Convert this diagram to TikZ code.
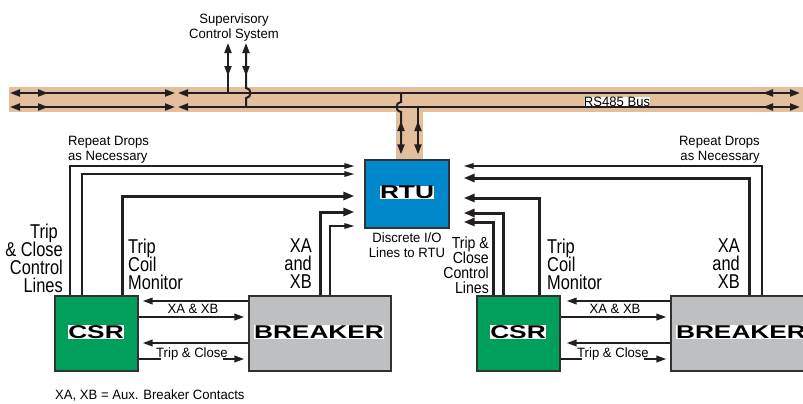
\documentclass[tikz,border=0pt]{standalone}
\usepackage{fontspec}
\setmainfont{Liberation Sans}
\newfontfamily\smallf{Liberation Sans}[FakeStretch=0.97]
\newfontfamily\bigf{Liberation Sans}[FakeStretch=0.82]
\newfontfamily\narf{Liberation Sans}[FakeStretch=0.88]
\newfontfamily\boxf{Liberation Sans}[FakeStretch=1.42]
\usetikzlibrary{arrows.meta}
\definecolor{tanc}{RGB}{227,191,158}
\definecolor{rtuc}{RGB}{0,136,204}
\definecolor{csrc}{RGB}{0,160,92}
\definecolor{brkc}{RGB}{190,191,193}
\definecolor{inkc}{RGB}{35,31,32}
\definecolor{edgec}{RGB}{50,50,50}
\setlength{\lineskiplimit}{-30pt}
\begin{document}
\begin{tikzpicture}[x=1bp,y=-1bp,
  wire/.style={draw=inkc, line width=1.4bp, -{Triangle[length=10bp,width=5.5bp]}},
  heavy/.style={draw=inkc, line width=3bp, -{Triangle[length=11bp,width=8bp]}},
  med/.style={draw=inkc, line width=2bp, -{Triangle[length=10bp,width=6.5bp]}},
  busw/.style={draw=inkc, line width=2bp},
  btip/.style={-{Triangle[length=10bp,width=7bp]}},
  btips/.style={{Triangle[length=10bp,width=7bp]}-{Triangle[length=10bp,width=7bp]}},
  unit/.style={draw=edgec, line width=1.3bp, inner sep=0pt, minimum height=75bp},
  unitlabel/.style={fill=white, inner sep=0.4bp, text=black, font=\boxf\bfseries\fontsize{18.5bp}{20bp}\selectfont},
  small/.style={font=\smallf\fontsize{13.5bp}{15bp}\selectfont, inner sep=0pt, text=black},
  big/.style={font=\bigf\fontsize{20bp}{18bp}\selectfont, inner sep=0pt, text=black},
  nar/.style={font=\narf\fontsize{16bp}{15bp}\selectfont, inner sep=0pt, text=black},
]
\lineskiplimit=-30pt
\useasboundingbox (0,0) rectangle (803,403);
\clip (0,0) rectangle (803,403);

% bus bands
\fill[tanc] (9,87) rectangle (803,112);
\fill[tanc] (396,111) rectangle (423,160);

% units
\node[unit, fill=rtuc, minimum width=84bp, minimum height=68bp] (rtu) at (407,194) {};
\node[unitlabel] (rtut) at (407,192.5) {RTU};
\node[unit, fill=csrc, minimum width=83bp] (csrL) at (96.5,333.5) {};
\node[unitlabel] (csrLt) at (96,332) {CSR};
\node[unit, fill=brkc, minimum width=142bp] (brkL) at (320,333.5) {};
\node[unitlabel] (brkLt) at (319,332) {BREAKER};
\node[unit, fill=csrc, minimum width=83bp] (csrR) at (518.5,333.5) {};
\node[unitlabel] (csrRt) at (518,332) {CSR};
\node[unit, fill=brkc, minimum width=140bp] (brkR) at (741,333.5) {};
\node[unitlabel] (brkRt) at (741,332) {BREAKER};

% bus lines
\foreach \y in {93,107}{
  \draw[busw, btips] (10,\y) -- (175,\y);
  \draw[busw, btip] (38,\y) -- (48,\y);
  \draw[busw, btips] (178,\y) -- (800,\y);
  \draw[busw, btip] (773,\y) -- (763,\y);
}

% supervisory drops
\draw[busw, btip] (228,93) -- (228,43);
\draw[busw, btip] (228,66) -- (228,76);
\draw[busw, btip] (246,107) -- (246,98) .. controls (252,98) and (252,88) .. (246,88) -- (246,43);
\draw[busw, btip] (246,66) -- (246,76);

% RTU drops
\draw[busw, btip, shorten >=5bp] (401,93) -- (401,102) .. controls (395,102) and (395,112) .. (401,112) -- (rtu.north -| 401,0);
\draw[busw, btip] (401,131) -- (401,121);
\draw[busw, btip, shorten >=5bp] (418,107) -- (rtu.north -| 418,0);
\draw[busw, btip] (418,131) -- (418,121);

% left group to RTU
\draw[wire, shorten >=10bp] (70,0 |- csrL.north) |- (rtu.west |- 0,166);
\draw[wire, shorten >=10bp] (82,0 |- csrL.north) |- (rtu.west |- 0,174);
\draw[heavy, shorten >=10bp] (122,0 |- csrL.north) |- (rtu.west |- 0,196);
\draw[heavy, shorten >=10bp] (320,0 |- brkL.north) |- (rtu.west |- 0,212);
\draw[wire, shorten >=10bp] (330,0 |- brkL.north) |- (rtu.west |- 0,226);

% right group to RTU
\draw[wire, shorten >=14bp] (762,0 |- brkR.north) |- (rtu.east |- 0,166);
\draw[heavy, shorten >=14bp] (749,0 |- brkR.north) |- (rtu.east |- 0,178);
\draw[heavy, shorten >=14bp] (539,0 |- csrR.north) |- (rtu.east |- 0,198);
\draw[heavy, shorten >=14bp] (503,0 |- csrR.north) |- (rtu.east |- 0,213);
\draw[heavy, shorten >=14bp] (493,0 |- csrR.north) |- (rtu.east |- 0,222);

% CSR <-> breaker, left
\draw[med, shorten >=4bp] (brkL.west |- 0,301) -- (csrL.east |- 0,301);
\draw[med, shorten >=4bp] (csrL.east |- 0,317) -- (brkL.west |- 0,317);
\draw[med, shorten >=4bp] (brkL.west |- 0,343) -- (csrL.east |- 0,343);
\draw[med, shorten >=4bp] (csrL.east |- 0,359) -- (brkL.west |- 0,359);
% CSR <-> breaker, right
\draw[med, shorten >=6bp] (brkR.west |- 0,301) -- (csrR.east |- 0,301);
\draw[med, shorten >=4bp] (csrR.east |- 0,317) -- (brkR.west |- 0,317);
\draw[med, shorten >=6bp] (brkR.west |- 0,343) -- (csrR.east |- 0,343);
\draw[med, shorten >=4bp] (csrR.east |- 0,359) -- (brkR.west |- 0,359);

% small texts
\node[small, anchor=north, align=center] (sup) at (234,13.3) {Supervisory\\Control System};
\node[small, anchor=base, fill=white] (bus) at (617,106) {RS485 Bus};
\node[small, anchor=north west, align=left] (repL) at (68,136.3) {Repeat Drops\\as Necessary};
\node[small, anchor=north east, align=right] (repR) at (760,136.3) {Repeat Drops\\as Necessary};
\node[small, anchor=north, align=center] (disc) at (407,232.3) {Discrete I/O\\Lines to RTU};
\node[small, anchor=base] (xaL) at (193,313) {XA \& XB};
\node[small, anchor=base, fill=white, inner xsep=-5bp, inner ysep=2bp] (tcL) at (192,357) {Trip \& Close};
\node[small, anchor=base] (xaR) at (615,313) {XA \& XB};
\node[small, anchor=base, fill=white, inner xsep=-5bp, inner ysep=2bp] (tcR) at (613,357) {Trip \& Close};
\node[small, anchor=base west] (note) at (55,399) {XA, XB = Aux. Breaker Contacts};

% big labels, left
\node[big, anchor=north east, align=right] (tcl) at (63,223.7) {Trip\hspace*{5bp}\\\& Close\\Control\\Lines};
\node[big, anchor=north west, align=left] (tcm) at (128,238.7) {Trip\\Coil\\Monitor};
\node[big, anchor=north east, align=right] (xab) at (312,238.7) {XA\\and\\XB};
% big labels, right
\node[nar, anchor=north east, align=right] (rtcl) at (489,236.4) {Trip \&\\Close\\Control\\Lines};
\node[big, anchor=north west, align=left] (rtcm) at (547,238.7) {Trip\\Coil\\Monitor};
\node[big, anchor=north east, align=right] (rxab) at (740,238.7) {XA\\and\\XB};
\end{tikzpicture}
\end{document}
